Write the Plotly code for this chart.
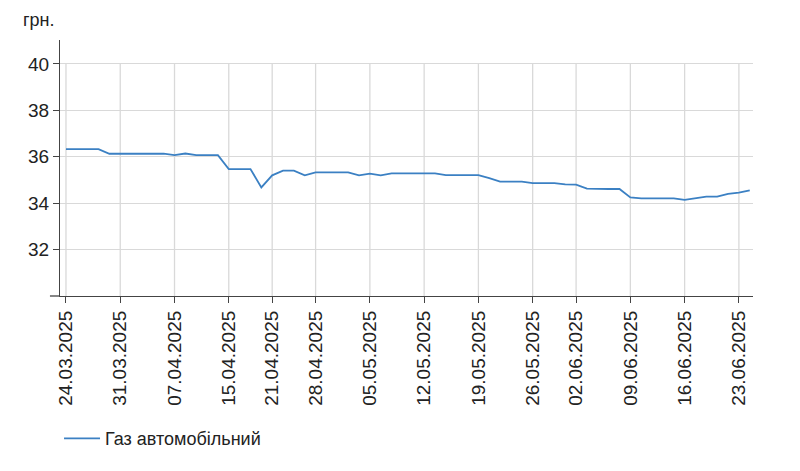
import pandas as pd
import plotly.graph_objects as go

# Trading days shown on the chart (working days, with a few missing dates)
start_date = "2025-03-24"
end_date = "2025-06-24"
missing_dates = ["14.04.2025", "25.04.2025", "30.05.2025"]

dates = [d.strftime("%d.%m.%Y") for d in pd.bdate_range(start_date, end_date)]
dates = [d for d in dates if d not in missing_dates]

series_name = "Газ автомобільний"
prices = [
    36.33, 36.33, 36.33, 36.33, 36.13, 36.13, 36.13, 36.13, 36.13, 36.13,
    36.07, 36.14, 36.07, 36.07, 36.07, 35.47, 35.47, 35.47, 34.68, 35.20,
    35.40, 35.40, 35.20, 35.33, 35.33, 35.33, 35.33, 35.20, 35.27, 35.20,
    35.28, 35.28, 35.28, 35.28, 35.28, 35.21, 35.21, 35.21, 35.21, 35.08,
    34.93, 34.93, 34.93, 34.86, 34.86, 34.86, 34.81, 34.80, 34.63, 34.61,
    34.61, 34.61, 34.25, 34.21, 34.21, 34.21, 34.21, 34.14, 34.21, 34.28,
    34.28, 34.40, 34.45, 34.55,
]

x_ticks = [
    "24.03.2025", "31.03.2025", "07.04.2025", "15.04.2025", "21.04.2025",
    "28.04.2025", "05.05.2025", "12.05.2025", "19.05.2025", "26.05.2025",
    "02.06.2025", "09.06.2025", "16.06.2025", "23.06.2025",
]
y_ticks = [32, 34, 36, 38, 40]
y_unit = "грн."

FONT = "Liberation Sans, Arial, sans-serif"
GRID = "#d9d9d9"
AXIS = "#444444"
LINE = "#3b80c3"

fig = go.Figure()
fig.add_trace(go.Scatter(
    x=dates, y=prices, mode="lines", name=series_name,
    line=dict(color=LINE, width=1.8),
))

# vertical grid lines only up to the top tick
for t in x_ticks:
    fig.add_shape(type="line", xref="x", yref="y", x0=t, x1=t,
                  y0=30, y1=max(y_ticks), layer="below",
                  line=dict(color=GRID, width=1.3))

# small extension of the x axis line to the left of the y axis
fig.add_shape(type="line", xref="paper", yref="paper", x0=-0.0145, x1=0,
              y0=0, y1=0, line=dict(color=AXIS, width=1.3))

fig.add_annotation(text=y_unit, xref="paper", yref="paper",
                   x=-0.005, y=1.078, xanchor="right", yanchor="middle",
                   showarrow=False, font=dict(size=18, color="#222", family=FONT))

fig.update_layout(
    width=792, height=463,
    margin=dict(l=52, r=47, t=32, b=175, autoexpand=False),
    paper_bgcolor="white", plot_bgcolor="white",
    font=dict(family=FONT, color="#222"),
    showlegend=True,
    legend=dict(orientation="h", x=-0.0014, xanchor="left", y=-0.485,
                yanchor="top", font=dict(size=18, color="#222", family=FONT),
                itemwidth=36),
    xaxis=dict(
        type="category", categoryorder="array", categoryarray=dates,
        range=[-0.55, len(dates) - 0.7],
        tickmode="array", tickvals=x_ticks, ticktext=x_ticks,
        tickangle=-90, tickfont=dict(size=19, color="#222", family=FONT),
        showgrid=False, zeroline=False, automargin=False,
        showline=True, linecolor=AXIS, linewidth=1.3,
        ticks="outside", ticklen=6, tickcolor=AXIS, tickwidth=1.3,
    ),
    yaxis=dict(
        range=[30, 41.03],
        tickmode="array", tickvals=y_ticks, automargin=False,
        tickfont=dict(size=19, color="#222", family=FONT),
        showgrid=True, gridcolor=GRID, gridwidth=1.3, zeroline=False,
        showline=True, linecolor=AXIS, linewidth=1.3,
        ticks="outside", ticklen=6, tickcolor=AXIS, tickwidth=1.3,
    ),
)

fig.write_html("out.html")
